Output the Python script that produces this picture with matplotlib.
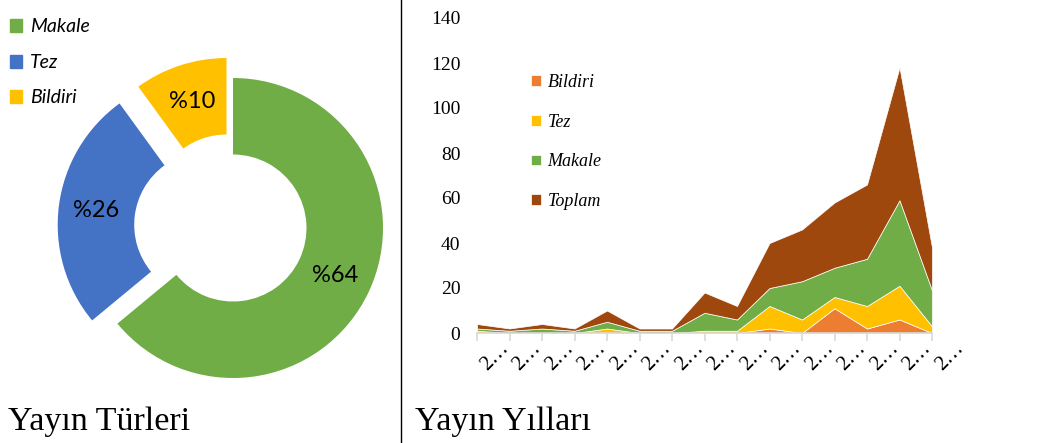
"""
Yayin turleri (donut) ve yayin yillari (stacked area) grafigi.
"""

import matplotlib.pyplot as plt
from matplotlib.lines import Line2D
from matplotlib.patches import Patch

# donut data
turler = ['Makale', 'Tez', 'Bildiri']
tur_yuzde = [64, 26, 10]
tur_renk = ['#70AD47', '#4472C4', '#FFC000']

# area chart data (yearly counts)
yillar = list(range(2005, 2020))
bildiri = [0, 0, 0, 0, 0, 0, 0, 0, 0, 2, 0, 11, 2, 6, 0]
tez = [1, 0, 0, 0, 2, 0, 0, 1, 1, 10, 6, 5, 10, 15, 3]
makale = [1, 1, 2, 1, 3, 1, 1, 8, 5, 8, 17, 13, 21, 38, 16]
toplam = [2, 1, 2, 1, 5, 1, 1, 9, 6, 20, 23, 29, 33, 59, 19]
seri_adlari = ['Bildiri', 'Tez', 'Makale', 'Toplam']
seri_renk = ['#ED7D31', '#FFC000', '#70AD47', '#9E480E']

W, H = 1051, 443
fig = plt.figure(figsize=(W / 100, H / 100), dpi=100)

# ---- donut ----
cx, cy, R, half = 233, 228, 150, 200
ax1 = fig.add_axes([(cx - half) / W, 1 - (cy + half) / H, 2 * half / W, 2 * half / H])
ax1.pie(
    tur_yuzde,
    colors=tur_renk,
    startangle=90,
    counterclock=False,
    explode=[0, 0.17, 0.14],
    wedgeprops=dict(width=0.51, linewidth=0),
    autopct=lambda p: '%' + f'{p:.0f}',
    pctdistance=0.75,
    textprops={'fontsize': 17, 'family': 'Lato', 'color': 'black'},
)
ax1.set_xlim(-half / R, half / R)
ax1.set_ylim(-half / R, half / R)
ax1.set_aspect('equal')
ax1.axis('off')

handles1 = [Patch(color=c, label=t) for t, c in zip(turler, tur_renk)]
fig.legend(
    handles=handles1, loc='upper left', bbox_to_anchor=(-8 / W, 1 - 1 / H),
    frameon=False, handlelength=0.65, handleheight=0.65, handletextpad=0.4,
    labelspacing=0.95, prop={'family': 'Lato', 'style': 'italic', 'size': 14},
)

# ---- stacked area ----
x0, x1, y0, y1 = 477, 932, 333, 18
ax2 = fig.add_axes([x0 / W, 1 - y0 / H, (x1 - x0) / W, (y0 - y1) / H])
xs = range(len(yillar))
ax2.stackplot(xs, bildiri, tez, makale, toplam, colors=seri_renk,
              labels=seri_adlari, edgecolor='white', linewidth=0.5)
ax2.set_xlim(0, len(yillar) - 1)
ax2.set_ylim(0, 140)
ax2.set_yticks(range(0, 141, 20))
for s in ['top', 'right', 'left']:
    ax2.spines[s].set_visible(False)
ax2.spines['bottom'].set_color('#D9D9D9')
ax2.spines['bottom'].set_linewidth(1.2)
ax2.tick_params(axis='y', length=0, pad=12, labelsize=14)
ax2.tick_params(axis='x', length=6, color='#D9D9D9', width=1.2, pad=14, labelsize=15)
ax2.set_xticks(list(xs))
ax2.set_xticklabels([str(y)[0] + '…' for y in yillar], rotation=45,
                    ha='left', va='top', rotation_mode='anchor')
for lab in ax2.get_xticklabels() + ax2.get_yticklabels():
    lab.set_family('Liberation Serif')

ax2.legend(
    loc='upper left', bbox_to_anchor=(38 / (x1 - x0), 1 - 40 / (y0 - y1)),
    frameon=False, handlelength=0.55, handleheight=0.55, handletextpad=0.35,
    labelspacing=1.25,
    prop={'family': 'Liberation Serif', 'style': 'italic', 'size': 13},
)

# titles and divider
fig.text(8 / W, 1 - 430 / H, 'Yayın Türleri', fontsize=24.5,
         family='Liberation Serif', va='baseline')
fig.text(415 / W, 1 - 430 / H, 'Yayın Yılları', fontsize=24.5,
         family='Liberation Serif', va='baseline')
fig.add_artist(Line2D([401 / W, 401 / W], [0, 1], color='black', linewidth=1))

fig.savefig('out.png', dpi=100)
